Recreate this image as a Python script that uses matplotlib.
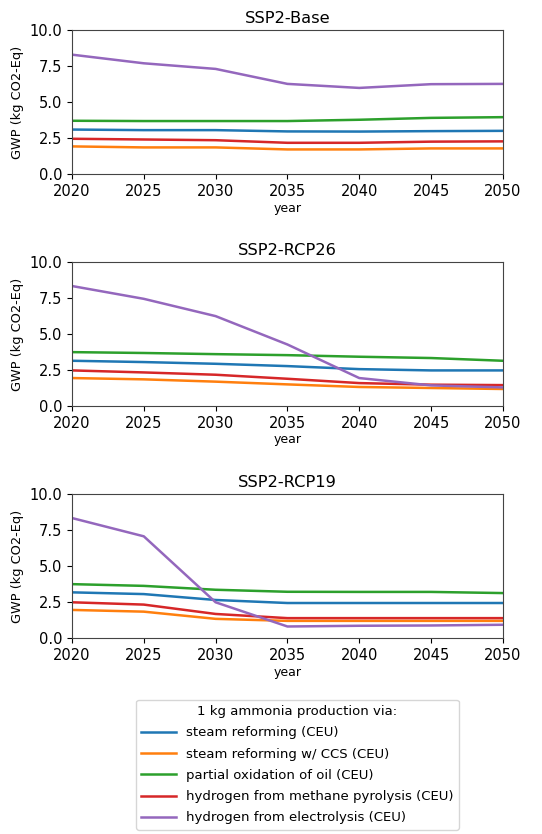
import matplotlib
matplotlib.use("Agg")
import matplotlib.pyplot as plt

# Years and scenarios
years = [2020, 2025, 2030, 2035, 2040, 2045, 2050]
scenarios = ["SSP2-Base", "SSP2-RCP26", "SSP2-RCP19"]
routes = [
    "steam reforming (CEU)",
    "steam reforming w/ CCS (CEU)",
    "partial oxidation of oil (CEU)",
    "hydrogen from methane pyrolysis (CEU)",
    "hydrogen from electrolysis (CEU)",
]

# GWP per kg ammonia, kg CO2-Eq
base_smr = [3.09, 3.05, 3.05, 2.96, 2.95, 2.98, 3.00]
base_smr_ccs = [1.92, 1.85, 1.85, 1.71, 1.71, 1.78, 1.78]
base_pox = [3.70, 3.68, 3.68, 3.68, 3.77, 3.90, 3.95]
base_pyro = [2.45, 2.40, 2.35, 2.17, 2.17, 2.25, 2.27]
base_elec = [8.29, 7.69, 7.30, 6.26, 5.98, 6.24, 6.26]

rcp26_smr = [3.14, 3.05, 2.93, 2.77, 2.56, 2.47, 2.47]
rcp26_smr_ccs = [1.94, 1.85, 1.69, 1.50, 1.32, 1.25, 1.18]
rcp26_pox = [3.74, 3.68, 3.60, 3.53, 3.42, 3.33, 3.14]
rcp26_pyro = [2.47, 2.33, 2.17, 1.89, 1.59, 1.48, 1.45]
rcp26_elec = [8.33, 7.44, 6.24, 4.27, 1.94, 1.43, 1.29]

rcp19_smr = [3.17, 3.05, 2.64, 2.43, 2.43, 2.43, 2.43]
rcp19_smr_ccs = [1.95, 1.83, 1.33, 1.19, 1.19, 1.19, 1.19]
rcp19_pox = [3.74, 3.62, 3.35, 3.21, 3.20, 3.20, 3.12]
rcp19_pyro = [2.48, 2.32, 1.67, 1.38, 1.38, 1.38, 1.38]
rcp19_elec = [8.33, 7.06, 2.48, 0.80, 0.85, 0.87, 0.92]

data = [
    [base_smr, base_smr_ccs, base_pox, base_pyro, base_elec],
    [rcp26_smr, rcp26_smr_ccs, rcp26_pox, rcp26_pyro, rcp26_elec],
    [rcp19_smr, rcp19_smr_ccs, rcp19_pox, rcp19_pyro, rcp19_elec],
]
colors = ["#1f77b4", "#ff7f0e", "#2ca02c", "#d62728", "#9467bd"]

fig = plt.figure(figsize=(5.42, 8.34), dpi=100)
tops = [0.964, 0.6859, 0.4077]
height = 0.1727

for i, scen in enumerate(scenarios):
    ax = fig.add_axes([0.1328, tops[i] - height, 0.795, height])
    for vals, c, lab in zip(data[i], colors, routes):
        ax.plot(years, vals, color=c, lw=1.8, label=lab)
    ax.set_xlim(2020, 2050)
    ax.set_ylim(0, 10)
    ax.set_yticks([0, 2.5, 5, 7.5, 10])
    ax.set_xticks(years)
    ax.tick_params(labelsize=10.5)
    for s in ax.spines.values():
        s.set_edgecolor("#444444")
    ax.set_title(scen, fontsize=11.7, pad=5)
    ax.set_xlabel("year", fontsize=9, labelpad=2)
    ax.set_ylabel("GWP (kg CO2-Eq)", fontsize=9.3)

handles, labels = ax.get_legend_handles_labels()
fig.legend(handles, labels, loc="upper center", bbox_to_anchor=(0.549, 0.1643),
           title="1 kg ammonia production via:", fontsize=9.5, title_fontsize=9.5,
           handlelength=2.6, labelspacing=0.63, borderaxespad=0.2)

fig.savefig("out.png", dpi=100)
